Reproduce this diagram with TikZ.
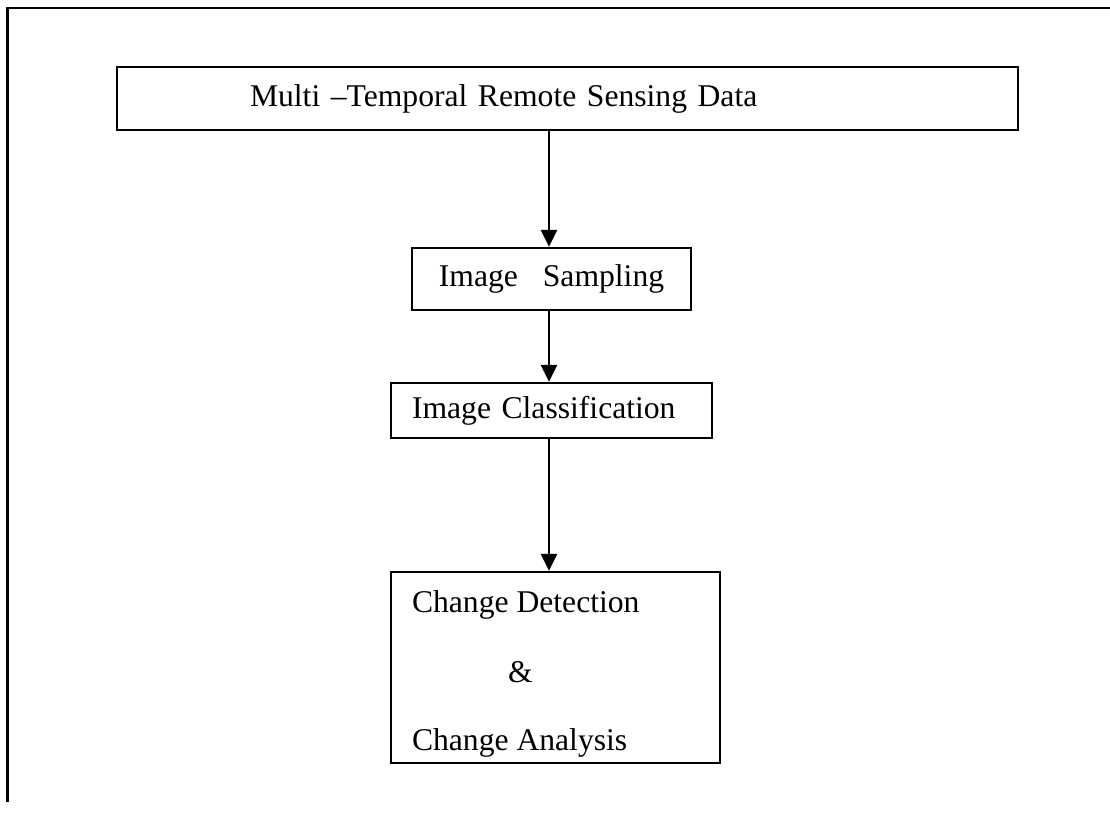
\documentclass[tikz,border=0pt]{standalone}
\usepackage{fontspec}
\setmainfont{Liberation Serif}
\usetikzlibrary{arrows.meta}
\begin{document}
\begin{tikzpicture}[
		box/.style={rectangle, draw, line width=1.3pt, font=\fontsize{18}{21.6}\selectfont},
		flow/.style={line width=1.5pt, -{Triangle[width=0.32cm,length=0.34cm]}}
	]
		\useasboundingbox (0,0) rectangle (22.2,-16.32);
		% outer frame
		\coordinate (f-bl) at (0.15,-16.04);
		\coordinate (f-tl) at (0.15,-0.16);
		\coordinate (f-tr) at (22.2,-0.16);
		\draw[line width=1.4pt] (f-bl) -- (f-tl) -- (f-tr);
		% boxes
		\node[box, minimum height=1.26cm, inner xsep=2.66cm, text width=12.7cm, align=left] (data) at (11.35,-1.97) {Multi –Temporal Remote Sensing Data};
		\node[box, minimum width=5.58cm, minimum height=1.24cm] (sampling) at (11.03,-5.58) {Image\hspace{0.5cm}Sampling};
		\node[box, minimum height=1.1cm, inner xsep=0.42cm, text width=5.58cm, align=left] (class) at (11.03,-8.21) {Image Classification};
		\node[box, minimum height=3.82cm, inner xsep=0.42cm, inner ysep=0pt] (change) at (11.11,-13.35)
			{\parbox{5.74cm}{\vspace*{0.24cm}Change Detection\\[0.64cm]\hspace*{1.92cm}\&\\[0.6cm]Change Analysis}};
		% arrows
		\draw[flow] (data.south -| sampling.north) ++(-0.05,0) coordinate (a1) -- (a1 |- sampling.north);
		\draw[flow] (sampling.south) ++(-0.05,0) coordinate (a2) -- (a2 |- class.north);
		\draw[flow] (class.south) ++(-0.05,0) coordinate (a3) -- (a3 |- change.north);
	\end{tikzpicture}
\end{document}
